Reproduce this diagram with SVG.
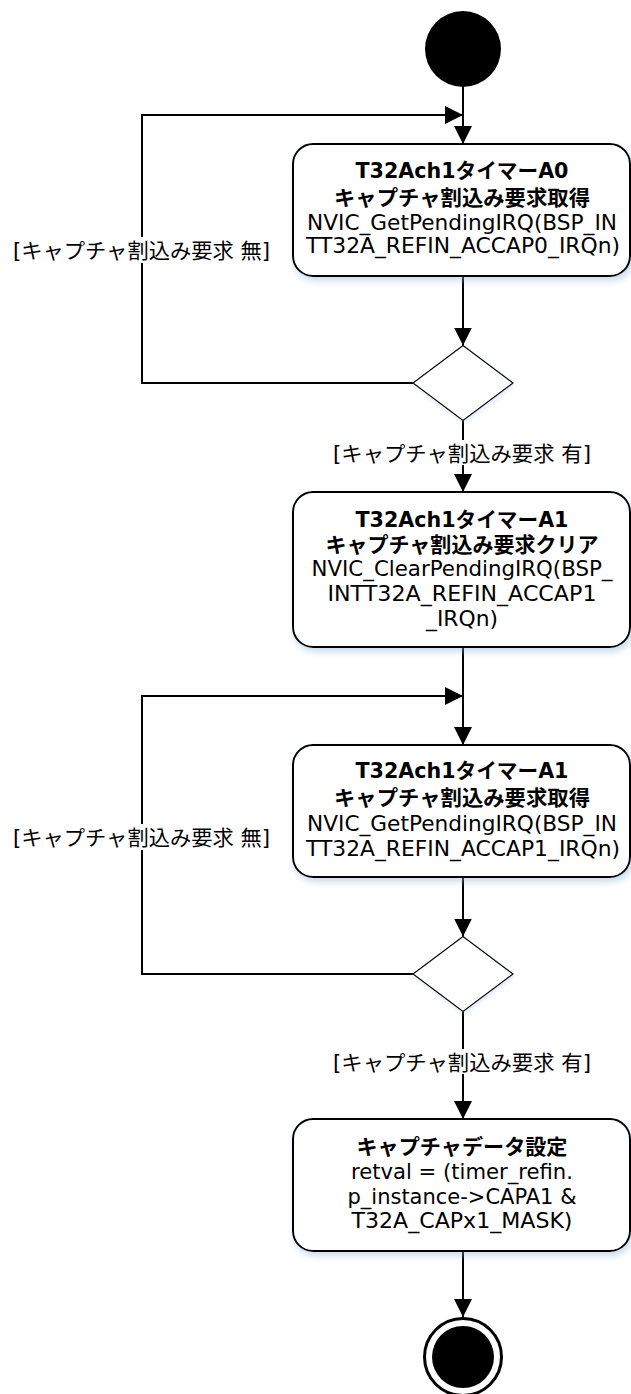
<svg xmlns="http://www.w3.org/2000/svg" width="631" height="1394" viewBox="0 0 631 1394">
<style>
text{font-family:"DejaVu Sans","Noto Sans CJK JP",sans-serif;font-size:21px;fill:#000;text-anchor:middle}
.b{font-weight:bold}
.box{fill:#fff;stroke:#000;stroke-width:2;filter:url(#sh)}
.dia{fill:#fff;stroke:#000;stroke-width:1.2;filter:url(#sh2)}
.ln{fill:none;stroke:#000;stroke-width:2}
.lbg{fill:#fff}
</style>
<defs>
<filter id="sh" x="-10%" y="-10%" width="125%" height="130%">
<feDropShadow dx="2" dy="4" stdDeviation="3" flood-color="#8fb0dc" flood-opacity="0.45"/>
</filter>
<filter id="sh2" x="-20%" y="-20%" width="140%" height="140%">
<feDropShadow dx="1" dy="2" stdDeviation="2" flood-color="#8fb0dc" flood-opacity="0.3"/>
</filter>
<marker id="arr" markerUnits="userSpaceOnUse" markerWidth="18" markerHeight="18" viewBox="0 0 17 17" refX="17" refY="8.5" orient="auto">
<path d="M0,0 L17,8.5 L0,17 Z" fill="#000"/>
</marker>
</defs>

<g id="connectors">
<line class="ln" x1="463" y1="87" x2="463" y2="144" marker-end="url(#arr)"/>
<polyline class="ln" points="413,383 142,383 142,115 463,115" marker-end="url(#arr)"/>
<line class="ln" x1="463" y1="277" x2="463" y2="345.5" marker-end="url(#arr)"/>
<line class="ln" x1="463" y1="420.5" x2="463" y2="492" marker-end="url(#arr)"/>
<line class="ln" x1="463" y1="647" x2="463" y2="745" marker-end="url(#arr)"/>
<polyline class="ln" points="413,974 142,974 142,696 463,696" marker-end="url(#arr)"/>
<line class="ln" x1="463" y1="877" x2="463" y2="936.5" marker-end="url(#arr)"/>
<line class="ln" x1="463" y1="1011.5" x2="463" y2="1119" marker-end="url(#arr)"/>
<line class="ln" x1="463" y1="1251" x2="463" y2="1317" marker-end="url(#arr)"/>
<g id="label-no1">
<rect class="lbg" x="13" y="237" width="257" height="26"/>
<text x="141.5" y="258" textLength="257" lengthAdjust="spacingAndGlyphs">[キャプチャ割込み要求 無]</text>
</g>
<g id="label-yes1">
<rect class="lbg" x="333" y="440" width="258" height="25"/>
<text x="462" y="460.5" textLength="258" lengthAdjust="spacingAndGlyphs">[キャプチャ割込み要求 有]</text>
</g>
<g id="label-no2">
<rect class="lbg" x="13" y="824" width="257" height="26"/>
<text x="141.5" y="844.5" textLength="257" lengthAdjust="spacingAndGlyphs">[キャプチャ割込み要求 無]</text>
</g>
<g id="label-yes2">
<rect class="lbg" x="333" y="1049" width="258" height="25"/>
<text x="462" y="1069.5" textLength="258" lengthAdjust="spacingAndGlyphs">[キャプチャ割込み要求 有]</text>
</g>
</g>

<g id="start">
<circle cx="463" cy="49" r="38" fill="#000"/>
</g>

<g id="box1">
<rect class="box" x="293" y="144" width="337" height="132" rx="20" ry="20"/>
<text class="b" x="462" y="177.5" textLength="213" lengthAdjust="spacingAndGlyphs">T32Ach1タイマーA0</text>
<text class="b" x="462" y="204.5" textLength="256" lengthAdjust="spacingAndGlyphs">キャプチャ割込み要求取得</text>
<text x="462" y="229.5" textLength="310" lengthAdjust="spacingAndGlyphs">NVIC_GetPendingIRQ(BSP_IN</text>
<text x="463" y="253" textLength="314" lengthAdjust="spacingAndGlyphs">TT32A_REFIN_ACCAP0_IRQn)</text>
</g>

<g id="decision1">
<polygon class="dia" points="463,345.5 513,383 463,420.5 413,383"/>
</g>

<g id="box2">
<rect class="box" x="293" y="492" width="337" height="155" rx="20" ry="20"/>
<text class="b" x="462" y="527" textLength="213" lengthAdjust="spacingAndGlyphs">T32Ach1タイマーA1</text>
<text class="b" x="462" y="552" textLength="273" lengthAdjust="spacingAndGlyphs">キャプチャ割込み要求クリア</text>
<text x="462" y="576" textLength="301" lengthAdjust="spacingAndGlyphs">NVIC_ClearPendingIRQ(BSP_</text>
<text x="462" y="601" textLength="269" lengthAdjust="spacingAndGlyphs">INTT32A_REFIN_ACCAP1</text>
<text x="462" y="626" textLength="72" lengthAdjust="spacingAndGlyphs">_IRQn)</text>
</g>

<g id="box3">
<rect class="box" x="293" y="745" width="337" height="132" rx="20" ry="20"/>
<text class="b" x="462" y="778" textLength="213" lengthAdjust="spacingAndGlyphs">T32Ach1タイマーA1</text>
<text class="b" x="462" y="805" textLength="256" lengthAdjust="spacingAndGlyphs">キャプチャ割込み要求取得</text>
<text x="462" y="831" textLength="310" lengthAdjust="spacingAndGlyphs">NVIC_GetPendingIRQ(BSP_IN</text>
<text x="463" y="856" textLength="314" lengthAdjust="spacingAndGlyphs">TT32A_REFIN_ACCAP1_IRQn)</text>
</g>

<g id="decision2">
<polygon class="dia" points="463,936.5 513,974 463,1011.5 413,974"/>
</g>

<g id="box4">
<rect class="box" x="293" y="1119" width="337" height="132" rx="20" ry="20"/>
<text class="b" x="462" y="1153.5" textLength="211" lengthAdjust="spacingAndGlyphs">キャプチャデータ設定</text>
<text x="462" y="1179" textLength="222" lengthAdjust="spacingAndGlyphs">retval = (timer_refin.</text>
<text x="462" y="1204" textLength="229" lengthAdjust="spacingAndGlyphs">p_instance-&gt;CAPA1 &amp;</text>
<text x="462" y="1228" textLength="221" lengthAdjust="spacingAndGlyphs">T32A_CAPx1_MASK)</text>
</g>

<g id="end">
<circle cx="463" cy="1357" r="38.5" fill="#fff" stroke="#000" stroke-width="3"/>
<circle cx="463" cy="1357" r="31" fill="#000"/>
</g>
</svg>
